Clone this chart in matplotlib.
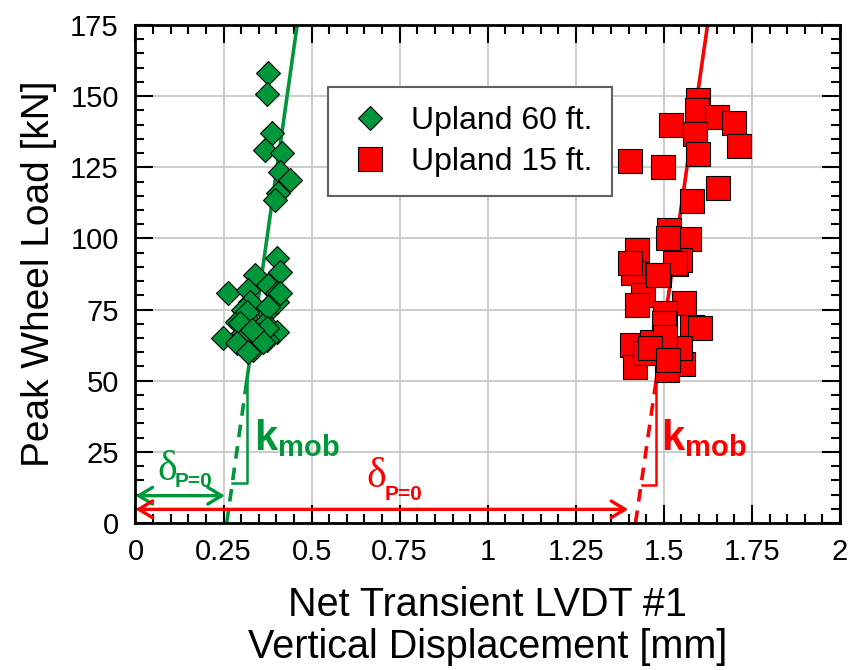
import numpy as np
import matplotlib
matplotlib.use('Agg')
import matplotlib.pyplot as plt
from matplotlib.ticker import MultipleLocator

plt.rcParams['font.family'] = ['Liberation Sans', 'DejaVu Sans']
plt.rcParams['mathtext.fontset'] = 'custom'
plt.rcParams['mathtext.rm'] = 'Liberation Sans'
plt.rcParams['mathtext.bf'] = 'Liberation Sans:bold'

# Upland 60 ft. (displacement mm, load kN)
green_x = [0.377, 0.372, 0.387, 0.368, 0.415, 0.410, 0.439, 0.405, 0.396,
           0.401, 0.410, 0.339, 0.377, 0.263, 0.320, 0.401, 0.387, 0.325,
           0.306, 0.372, 0.287, 0.325, 0.368, 0.401, 0.249, 0.306, 0.320,
           0.372, 0.311, 0.349, 0.334, 0.401, 0.316, 0.377, 0.297, 0.372,
           0.311, 0.287, 0.320, 0.363, 0.330, 0.410]
green_y = [158.0, 150.7, 136.9, 131.1, 129.9, 123.4, 120.5, 116.1, 113.5,
           93.0, 88.3, 87.1, 83.6, 80.7, 81.9, 80.7, 77.2, 77.8,
           74.8, 74.2, 70.7, 70.7, 70.2, 67.2, 64.9, 66.7, 61.9,
           64.3, 63.7, 66.1, 60.8, 77.8, 74.2, 76.0, 70.2, 68.4,
           65.5, 63.1, 60.2, 63.7, 67.8, 80.7]

# Upland 15 ft.
red_x = [1.598, 1.595, 1.650, 1.699, 1.519, 1.588, 1.714, 1.598, 1.404,
         1.498, 1.654, 1.579, 1.515, 1.571, 1.423, 1.534, 1.486, 1.413,
         1.546, 1.404, 1.442, 1.423, 1.557, 1.503, 1.501, 1.579, 1.603,
         1.409, 1.463, 1.501, 1.418, 1.555, 1.508, 1.446, 1.465, 1.546,
         1.513, 1.532, 1.484, 1.503, 1.460, 1.512]
red_y = [148.6, 145.1, 142.8, 140.7, 139.8, 136.7, 132.5, 129.6, 127.3,
         125.2, 117.6, 113.2, 103.0, 99.8, 95.9, 91.0, 87.1, 87.7,
         92.4, 91.3, 80.1, 76.6, 77.2, 73.7, 70.2, 69.0, 68.4,
         62.5, 62.5, 64.9, 54.9, 55.9, 53.8, 59.6, 63.7, 61.4,
         100.0, 91.3, 87.1, 65.5, 61.4, 57.3]

# fitted k_mob lines: intercept, start of solid part, top
green_fit_x = [0.259, 0.316, 0.459]
green_fit_y = [0, 50, 175]
red_fit_x = [1.4195, 1.478, 1.624]
red_fit_y = [0, 50, 175]

# slope triangles (corner x, left x, bottom y)
green_tri = [0.316, 0.274, 13.9]
red_tri = [1.478, 1.437, 13.35]

# delta_P=0 arrows (end x, y)
green_delta = [0.254, 9.6]
red_delta = [1.399, 4.8]

xticks = [0, 0.25, 0.5, 0.75, 1, 1.25, 1.5, 1.75, 2]
xticklabels = ['0', '0.25', '0.5', '0.75', '1', '1.25', '1.5', '1.75', '2']
yticks = [0, 25, 50, 75, 100, 125, 150, 175]

GREEN = '#00963A'
RED = '#FF0000'

fig = plt.figure(figsize=(8.52, 6.70), dpi=100)
ax = fig.add_axes([0.159, 0.2194, 0.8269, 0.7433])

# fit lines
ax.plot(green_fit_x[1:], green_fit_y[1:], color=GREEN, lw=2.6, zorder=2)
ax.plot(green_fit_x[:2], green_fit_y[:2], color=GREEN, lw=2.6, ls=(0, (3.5, 2.5)), zorder=2)
ax.plot(red_fit_x[1:], red_fit_y[1:], color=RED, lw=2.6, zorder=2)
ax.plot(red_fit_x[:2], red_fit_y[:2], color=RED, lw=2.6, ls=(0, (3.5, 2.5)), zorder=2)

for tri, c in [(green_tri, GREEN), (red_tri, RED)]:
    ax.plot([tri[0], tri[0], tri[1]], [50, tri[2], tri[2]], color=c, lw=1.8, zorder=2)

ax.plot(green_x, green_y, 'D', ms=12, mfc=GREEN, mec='black', mew=0.8,
        ls='none', label='Upland 60 ft.', zorder=3)
ax.plot(red_x, red_y, 's', ms=17, mfc=RED, mec='black', mew=0.8,
        ls='none', label='Upland 15 ft.', zorder=3)

for d, c in [(green_delta, GREEN), (red_delta, RED)]:
    ax.annotate('', xy=(d[0], d[1]), xytext=(0, d[1]),
                arrowprops=dict(arrowstyle='<->,head_length=0.5,head_width=0.3',
                                color=c, lw=2.4, shrinkA=0, shrinkB=0,
                                mutation_scale=20), zorder=4)

ax.text(0.336, 25.6, r'$\mathbf{k}_{\mathbf{mob}}$', color=GREEN, fontsize=30,
        ha='left', va='baseline')
ax.text(1.492, 25.6, r'$\mathbf{k}_{\mathbf{mob}}$', color=RED, fontsize=30,
        ha='left', va='baseline')

# delta_P=0 labels: serif delta with bold sans subscript
ax.text(0.062, 15.1, '\u03b4', color=GREEN, fontsize=30, family='Liberation Serif',
        ha='left', va='baseline')
ax.text(0.112, 12.8, 'P=0', color=GREEN, fontsize=15, fontweight='bold',
        ha='left', va='baseline')
ax.text(0.655, 12.7, '\u03b4', color=RED, fontsize=30, family='Liberation Serif',
        ha='left', va='baseline')
ax.text(0.708, 8.1, 'P=0', color=RED, fontsize=15, fontweight='bold',
        ha='left', va='baseline')

ax.set_xlim(0, 2)
ax.set_ylim(0, 175)
ax.set_xticks(xticks)
ax.set_xticklabels(xticklabels)
ax.set_yticks(yticks)
ax.xaxis.set_minor_locator(MultipleLocator(0.05))
ax.yaxis.set_minor_locator(MultipleLocator(5))
ax.tick_params(which='both', direction='in', top=True, right=True, width=1.5,
               labelsize=21, colors='black')
ax.tick_params(which='major', length=13)
ax.tick_params(which='minor', length=6.5)
ax.tick_params(axis='y', pad=12)
ax.tick_params(axis='x', pad=11)
for s in ax.spines.values():
    s.set_linewidth(2)
ax.grid(True, which='major', color='#c8c8c8', lw=1.3)
ax.set_axisbelow(True)

ax.set_ylabel('Peak Wheel Load [kN]', fontsize=28)
ax.yaxis.set_label_coords(-0.112, 0.5)
ax.set_xlabel('Net Transient LVDT #1\nVertical Displacement [mm]', fontsize=28.5,
              linespacing=1.12)
ax.xaxis.set_label_coords(0.5, -0.127)
ax.xaxis.label.set_va('top')

leg = ax.legend(loc='upper left', bbox_to_anchor=(0.2737, 0.876), borderaxespad=0,
                fontsize=23, numpoints=1, fancybox=False, framealpha=1,
                edgecolor='#606060', borderpad=0.6, handletextpad=0.6,
                labelspacing=0.35, handlelength=1.4)
leg.get_frame().set_linewidth(1.5)

fig.savefig('out.png', dpi=100)
